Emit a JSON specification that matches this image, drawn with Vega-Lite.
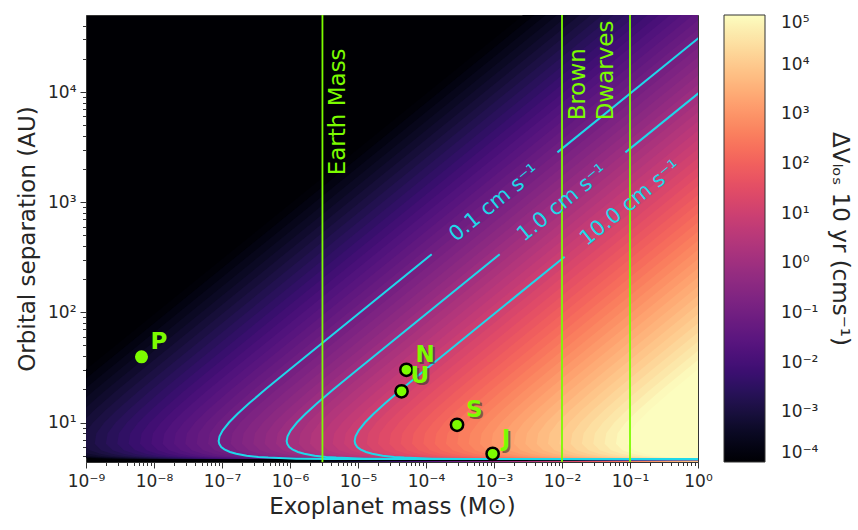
{
"$schema":"https://vega.github.io/schema/vega-lite/v6.json",
"width":612,"height":447,
"autosize":{"type":"none"},
"padding":{"left":86,"top":15,"right":160,"bottom":68},
"background":"white",
"config":{
"font":"DejaVu Sans",
"view":{"stroke":"#333333","strokeWidth":1,"fill":"#000004"},
"axis":{"labelFont":"DejaVu Sans","titleFont":"DejaVu Sans","labelColor":"#262626","titleColor":"#262626","tickColor":"#333333","domain":false,"grid":false,"titleFontWeight":"normal","labelFlush":false,"labelOverlap":false,"labelBound":false}
},
"datasets":{
"heat":[
{"c":1.21e-4,"r":4.3,"m":1.87e-10},{"c":1.21e-4,"r":4.6416,"m":1e4},{"c":1.21e-4,"r":4.7,"m":1.25e-9},{"c":1.21e-4,"r":4.87,"m":3.42e-10},{"c":1.21e-4,"r":30,"m":9.68e-10},{"c":1.21e-4,"r":60000,"m":3.85e-3},
{"c":1.78e-4,"r":4.3,"m":2.75e-10},{"c":1.78e-4,"r":4.6416,"m":1e4},{"c":1.78e-4,"r":4.7,"m":1.83e-9},{"c":1.78e-4,"r":4.87,"m":5.02e-10},{"c":1.78e-4,"r":19,"m":5.8e-10},{"c":1.78e-4,"r":30,"m":1.42e-9},{"c":1.78e-4,"r":60000,"m":5.65e-3},
{"c":2.61e-4,"r":4.3,"m":4.03e-10},{"c":2.61e-4,"r":4.6416,"m":1e4},{"c":2.61e-4,"r":4.7,"m":2.69e-9},{"c":2.61e-4,"r":4.87,"m":7.37e-10},{"c":2.61e-4,"r":19,"m":8.52e-10},{"c":2.61e-4,"r":30,"m":2.09e-9},{"c":2.61e-4,"r":60000,"m":8.29e-3},
{"c":3.83e-4,"r":4.3,"m":5.92e-10},{"c":3.83e-4,"r":4.6416,"m":1e4},{"c":3.83e-4,"r":4.7,"m":3.94e-9},{"c":3.83e-4,"r":4.87,"m":1.08e-9},{"c":3.83e-4,"r":5,"m":7.29e-10},{"c":3.83e-4,"r":13,"m":6.16e-10},{"c":3.83e-4,"r":19,"m":1.25e-9},{"c":3.83e-4,"r":30,"m":3.06e-9},{"c":3.83e-4,"r":60000,"m":1.22e-2},
{"c":5.62e-4,"r":4.3,"m":8.68e-10},{"c":5.62e-4,"r":4.6416,"m":1e4},{"c":5.62e-4,"r":4.7,"m":5.79e-9},{"c":5.62e-4,"r":4.87,"m":1.59e-9},{"c":5.62e-4,"r":5,"m":1.07e-9},{"c":5.62e-4,"r":5.2,"m":7.52e-10},{"c":5.62e-4,"r":13,"m":9.05e-10},{"c":5.62e-4,"r":19,"m":1.83e-9},{"c":5.62e-4,"r":30,"m":4.49e-9},{"c":5.62e-4,"r":60000,"m":1.79e-2},
{"c":8.25e-4,"r":4.3,"m":1.27e-9},{"c":8.25e-4,"r":4.6416,"m":1e4},{"c":8.25e-4,"r":4.7,"m":8.5e-9},{"c":8.25e-4,"r":4.87,"m":2.33e-9},{"c":8.25e-4,"r":5,"m":1.57e-9},{"c":8.25e-4,"r":5.2,"m":1.1e-9},{"c":8.25e-4,"r":5.6,"m":7.77e-10},{"c":8.25e-4,"r":10,"m":8.63e-10},{"c":8.25e-4,"r":13,"m":1.33e-9},{"c":8.25e-4,"r":19,"m":2.69e-9},{"c":8.25e-4,"r":30,"m":6.59e-9},{"c":8.25e-4,"r":60000,"m":2.62e-2},
{"c":1.21e-3,"r":4.3,"m":1.87e-9},{"c":1.21e-3,"r":4.6416,"m":1e4},{"c":1.21e-3,"r":4.7,"m":1.25e-8},{"c":1.21e-3,"r":4.87,"m":3.42e-9},{"c":1.21e-3,"r":5,"m":2.31e-9},{"c":1.21e-3,"r":5.2,"m":1.62e-9},{"c":1.21e-3,"r":5.6,"m":1.14e-9},{"c":1.21e-3,"r":6.4,"m":9.11e-10},{"c":1.21e-3,"r":8,"m":9.66e-10},{"c":1.21e-3,"r":10,"m":1.27e-9},{"c":1.21e-3,"r":13,"m":1.95e-9},{"c":1.21e-3,"r":19,"m":3.95e-9},{"c":1.21e-3,"r":30,"m":9.68e-9},{"c":1.21e-3,"r":60000,"m":3.85e-2},
{"c":1.78e-3,"r":4.3,"m":2.75e-9},{"c":1.78e-3,"r":4.6416,"m":1e4},{"c":1.78e-3,"r":4.7,"m":1.83e-8},{"c":1.78e-3,"r":4.87,"m":5.02e-9},{"c":1.78e-3,"r":5,"m":3.39e-9},{"c":1.78e-3,"r":5.2,"m":2.38e-9},{"c":1.78e-3,"r":5.6,"m":1.67e-9},{"c":1.78e-3,"r":6.4,"m":1.34e-9},{"c":1.78e-3,"r":8,"m":1.42e-9},{"c":1.78e-3,"r":10,"m":1.86e-9},{"c":1.78e-3,"r":13,"m":2.86e-9},{"c":1.78e-3,"r":19,"m":5.8e-9},{"c":1.78e-3,"r":30,"m":1.42e-8},{"c":1.78e-3,"r":60000,"m":5.65e-2},
{"c":2.61e-3,"r":4.3,"m":4.03e-9},{"c":2.61e-3,"r":4.6416,"m":1e4},{"c":2.61e-3,"r":4.7,"m":2.69e-8},{"c":2.61e-3,"r":4.87,"m":7.37e-9},{"c":2.61e-3,"r":5,"m":4.97e-9},{"c":2.61e-3,"r":5.2,"m":3.49e-9},{"c":2.61e-3,"r":5.6,"m":2.46e-9},{"c":2.61e-3,"r":6.4,"m":1.96e-9},{"c":2.61e-3,"r":8,"m":2.08e-9},{"c":2.61e-3,"r":10,"m":2.73e-9},{"c":2.61e-3,"r":13,"m":4.2e-9},{"c":2.61e-3,"r":19,"m":8.52e-9},{"c":2.61e-3,"r":30,"m":2.09e-8},{"c":2.61e-3,"r":60000,"m":8.29e-2},
{"c":3.83e-3,"r":4.3,"m":5.92e-9},{"c":3.83e-3,"r":4.6416,"m":1e4},{"c":3.83e-3,"r":4.7,"m":3.94e-8},{"c":3.83e-3,"r":4.87,"m":1.08e-8},{"c":3.83e-3,"r":5,"m":7.29e-9},{"c":3.83e-3,"r":5.2,"m":5.12e-9},{"c":3.83e-3,"r":5.6,"m":3.61e-9},{"c":3.83e-3,"r":6.4,"m":2.88e-9},{"c":3.83e-3,"r":8,"m":3.05e-9},{"c":3.83e-3,"r":10,"m":4.01e-9},{"c":3.83e-3,"r":13,"m":6.16e-9},{"c":3.83e-3,"r":19,"m":1.25e-8},{"c":3.83e-3,"r":30,"m":3.06e-8},{"c":3.83e-3,"r":60000,"m":0.122},
{"c":5.62e-3,"r":4.3,"m":8.68e-9},{"c":5.62e-3,"r":4.6416,"m":1e4},{"c":5.62e-3,"r":4.7,"m":5.79e-8},{"c":5.62e-3,"r":4.87,"m":1.59e-8},{"c":5.62e-3,"r":5,"m":1.07e-8},{"c":5.62e-3,"r":5.2,"m":7.52e-9},{"c":5.62e-3,"r":5.6,"m":5.29e-9},{"c":5.62e-3,"r":6.4,"m":4.23e-9},{"c":5.62e-3,"r":8,"m":4.48e-9},{"c":5.62e-3,"r":10,"m":5.88e-9},{"c":5.62e-3,"r":13,"m":9.05e-9},{"c":5.62e-3,"r":19,"m":1.83e-8},{"c":5.62e-3,"r":30,"m":4.49e-8},{"c":5.62e-3,"r":60000,"m":0.179},
{"c":8.25e-3,"r":4.3,"m":1.27e-8},{"c":8.25e-3,"r":4.6416,"m":1e4},{"c":8.25e-3,"r":4.7,"m":8.5e-8},{"c":8.25e-3,"r":4.87,"m":2.33e-8},{"c":8.25e-3,"r":5,"m":1.57e-8},{"c":8.25e-3,"r":5.2,"m":1.1e-8},{"c":8.25e-3,"r":5.6,"m":7.77e-9},{"c":8.25e-3,"r":6.4,"m":6.21e-9},{"c":8.25e-3,"r":8,"m":6.58e-9},{"c":8.25e-3,"r":10,"m":8.63e-9},{"c":8.25e-3,"r":13,"m":1.33e-8},{"c":8.25e-3,"r":19,"m":2.69e-8},{"c":8.25e-3,"r":30,"m":6.59e-8},{"c":8.25e-3,"r":60000,"m":0.262},
{"c":0.0121,"r":4.3,"m":1.87e-8},{"c":0.0121,"r":4.6416,"m":1e4},{"c":0.0121,"r":4.7,"m":1.25e-7},{"c":0.0121,"r":4.87,"m":3.42e-8},{"c":0.0121,"r":5,"m":2.31e-8},{"c":0.0121,"r":5.2,"m":1.62e-8},{"c":0.0121,"r":5.6,"m":1.14e-8},{"c":0.0121,"r":6.4,"m":9.11e-9},{"c":0.0121,"r":8,"m":9.66e-9},{"c":0.0121,"r":10,"m":1.27e-8},{"c":0.0121,"r":13,"m":1.95e-8},{"c":0.0121,"r":19,"m":3.95e-8},{"c":0.0121,"r":30,"m":9.68e-8},{"c":0.0121,"r":60000,"m":0.385},
{"c":0.0178,"r":4.3,"m":2.75e-8},{"c":0.0178,"r":4.6416,"m":1e4},{"c":0.0178,"r":4.7,"m":1.83e-7},{"c":0.0178,"r":4.87,"m":5.02e-8},{"c":0.0178,"r":5,"m":3.39e-8},{"c":0.0178,"r":5.2,"m":2.38e-8},{"c":0.0178,"r":5.6,"m":1.67e-8},{"c":0.0178,"r":6.4,"m":1.34e-8},{"c":0.0178,"r":8,"m":1.42e-8},{"c":0.0178,"r":10,"m":1.86e-8},{"c":0.0178,"r":13,"m":2.86e-8},{"c":0.0178,"r":19,"m":5.8e-8},{"c":0.0178,"r":30,"m":1.42e-7},{"c":0.0178,"r":60000,"m":0.565},
{"c":0.0261,"r":4.3,"m":4.03e-8},{"c":0.0261,"r":4.6416,"m":1e4},{"c":0.0261,"r":4.7,"m":2.69e-7},{"c":0.0261,"r":4.87,"m":7.37e-8},{"c":0.0261,"r":5,"m":4.97e-8},{"c":0.0261,"r":5.2,"m":3.49e-8},{"c":0.0261,"r":5.6,"m":2.46e-8},{"c":0.0261,"r":6.4,"m":1.96e-8},{"c":0.0261,"r":8,"m":2.08e-8},{"c":0.0261,"r":10,"m":2.73e-8},{"c":0.0261,"r":13,"m":4.2e-8},{"c":0.0261,"r":19,"m":8.52e-8},{"c":0.0261,"r":30,"m":2.09e-7},{"c":0.0261,"r":60000,"m":0.829},
{"c":0.0383,"r":4.3,"m":5.92e-8},{"c":0.0383,"r":4.6416,"m":1e4},{"c":0.0383,"r":4.7,"m":3.94e-7},{"c":0.0383,"r":4.87,"m":1.08e-7},{"c":0.0383,"r":5,"m":7.29e-8},{"c":0.0383,"r":5.2,"m":5.12e-8},{"c":0.0383,"r":5.6,"m":3.61e-8},{"c":0.0383,"r":6.4,"m":2.88e-8},{"c":0.0383,"r":8,"m":3.05e-8},{"c":0.0383,"r":10,"m":4.01e-8},{"c":0.0383,"r":13,"m":6.16e-8},{"c":0.0383,"r":19,"m":1.25e-7},{"c":0.0383,"r":30,"m":3.06e-7},{"c":0.0383,"r":60000,"m":1.22},
{"c":0.0562,"r":4.3,"m":8.68e-8},{"c":0.0562,"r":4.6416,"m":1e4},{"c":0.0562,"r":4.7,"m":5.79e-7},{"c":0.0562,"r":4.87,"m":1.59e-7},{"c":0.0562,"r":5,"m":1.07e-7},{"c":0.0562,"r":5.2,"m":7.52e-8},{"c":0.0562,"r":5.6,"m":5.29e-8},{"c":0.0562,"r":6.4,"m":4.23e-8},{"c":0.0562,"r":8,"m":4.48e-8},{"c":0.0562,"r":10,"m":5.88e-8},{"c":0.0562,"r":13,"m":9.05e-8},{"c":0.0562,"r":19,"m":1.83e-7},{"c":0.0562,"r":30,"m":4.49e-7},{"c":0.0562,"r":60000,"m":1.79},
{"c":0.0825,"r":4.3,"m":1.27e-7},{"c":0.0825,"r":4.6416,"m":1e4},{"c":0.0825,"r":4.7,"m":8.5e-7},{"c":0.0825,"r":4.87,"m":2.33e-7},{"c":0.0825,"r":5,"m":1.57e-7},{"c":0.0825,"r":5.2,"m":1.1e-7},{"c":0.0825,"r":5.6,"m":7.77e-8},{"c":0.0825,"r":6.4,"m":6.21e-8},{"c":0.0825,"r":8,"m":6.58e-8},{"c":0.0825,"r":10,"m":8.63e-8},{"c":0.0825,"r":13,"m":1.33e-7},{"c":0.0825,"r":19,"m":2.69e-7},{"c":0.0825,"r":30,"m":6.59e-7},{"c":0.0825,"r":60000,"m":2.62},
{"c":0.121,"r":4.3,"m":1.87e-7},{"c":0.121,"r":4.6416,"m":1e4},{"c":0.121,"r":4.7,"m":1.25e-6},{"c":0.121,"r":4.87,"m":3.42e-7},{"c":0.121,"r":5,"m":2.31e-7},{"c":0.121,"r":5.2,"m":1.62e-7},{"c":0.121,"r":5.6,"m":1.14e-7},{"c":0.121,"r":6.4,"m":9.11e-8},{"c":0.121,"r":8,"m":9.66e-8},{"c":0.121,"r":10,"m":1.27e-7},{"c":0.121,"r":13,"m":1.95e-7},{"c":0.121,"r":19,"m":3.95e-7},{"c":0.121,"r":30,"m":9.68e-7},{"c":0.121,"r":60000,"m":3.85},
{"c":0.178,"r":4.3,"m":2.75e-7},{"c":0.178,"r":4.6416,"m":1e4},{"c":0.178,"r":4.7,"m":1.83e-6},{"c":0.178,"r":4.87,"m":5.02e-7},{"c":0.178,"r":5,"m":3.39e-7},{"c":0.178,"r":5.2,"m":2.38e-7},{"c":0.178,"r":5.6,"m":1.67e-7},{"c":0.178,"r":6.4,"m":1.34e-7},{"c":0.178,"r":8,"m":1.42e-7},{"c":0.178,"r":10,"m":1.86e-7},{"c":0.178,"r":13,"m":2.86e-7},{"c":0.178,"r":19,"m":5.8e-7},{"c":0.178,"r":30,"m":1.42e-6},{"c":0.178,"r":60000,"m":5.65},
{"c":0.261,"r":4.3,"m":4.03e-7},{"c":0.261,"r":4.6416,"m":1e4},{"c":0.261,"r":4.7,"m":2.69e-6},{"c":0.261,"r":4.87,"m":7.37e-7},{"c":0.261,"r":5,"m":4.97e-7},{"c":0.261,"r":5.2,"m":3.49e-7},{"c":0.261,"r":5.6,"m":2.46e-7},{"c":0.261,"r":6.4,"m":1.96e-7},{"c":0.261,"r":8,"m":2.08e-7},{"c":0.261,"r":10,"m":2.73e-7},{"c":0.261,"r":13,"m":4.2e-7},{"c":0.261,"r":19,"m":8.52e-7},{"c":0.261,"r":30,"m":2.09e-6},{"c":0.261,"r":60000,"m":8.29},
{"c":0.383,"r":4.3,"m":5.92e-7},{"c":0.383,"r":4.6416,"m":1e4},{"c":0.383,"r":4.7,"m":3.94e-6},{"c":0.383,"r":4.87,"m":1.08e-6},{"c":0.383,"r":5,"m":7.29e-7},{"c":0.383,"r":5.2,"m":5.12e-7},{"c":0.383,"r":5.6,"m":3.61e-7},{"c":0.383,"r":6.4,"m":2.88e-7},{"c":0.383,"r":8,"m":3.05e-7},{"c":0.383,"r":10,"m":4.01e-7},{"c":0.383,"r":13,"m":6.16e-7},{"c":0.383,"r":19,"m":1.25e-6},{"c":0.383,"r":30,"m":3.06e-6},{"c":0.383,"r":60000,"m":12.2},
{"c":0.562,"r":4.3,"m":8.68e-7},{"c":0.562,"r":4.6416,"m":1e4},{"c":0.562,"r":4.7,"m":5.79e-6},{"c":0.562,"r":4.87,"m":1.59e-6},{"c":0.562,"r":5,"m":1.07e-6},{"c":0.562,"r":5.2,"m":7.52e-7},{"c":0.562,"r":5.6,"m":5.29e-7},{"c":0.562,"r":6.4,"m":4.23e-7},{"c":0.562,"r":8,"m":4.48e-7},{"c":0.562,"r":10,"m":5.88e-7},{"c":0.562,"r":13,"m":9.05e-7},{"c":0.562,"r":19,"m":1.83e-6},{"c":0.562,"r":30,"m":4.49e-6},{"c":0.562,"r":60000,"m":17.9},
{"c":0.825,"r":4.3,"m":1.27e-6},{"c":0.825,"r":4.6416,"m":1e4},{"c":0.825,"r":4.7,"m":8.5e-6},{"c":0.825,"r":4.87,"m":2.33e-6},{"c":0.825,"r":5,"m":1.57e-6},{"c":0.825,"r":5.2,"m":1.1e-6},{"c":0.825,"r":5.6,"m":7.77e-7},{"c":0.825,"r":6.4,"m":6.21e-7},{"c":0.825,"r":8,"m":6.58e-7},{"c":0.825,"r":10,"m":8.63e-7},{"c":0.825,"r":13,"m":1.33e-6},{"c":0.825,"r":19,"m":2.69e-6},{"c":0.825,"r":30,"m":6.59e-6},{"c":0.825,"r":60000,"m":26.2},
{"c":1.21,"r":4.3,"m":1.87e-6},{"c":1.21,"r":4.6416,"m":1e4},{"c":1.21,"r":4.7,"m":1.25e-5},{"c":1.21,"r":4.87,"m":3.42e-6},{"c":1.21,"r":5,"m":2.31e-6},{"c":1.21,"r":5.2,"m":1.62e-6},{"c":1.21,"r":5.6,"m":1.14e-6},{"c":1.21,"r":6.4,"m":9.11e-7},{"c":1.21,"r":8,"m":9.66e-7},{"c":1.21,"r":10,"m":1.27e-6},{"c":1.21,"r":13,"m":1.95e-6},{"c":1.21,"r":19,"m":3.95e-6},{"c":1.21,"r":30,"m":9.68e-6},{"c":1.21,"r":60000,"m":38.5},
{"c":1.78,"r":4.3,"m":2.75e-6},{"c":1.78,"r":4.6416,"m":1e4},{"c":1.78,"r":4.7,"m":1.83e-5},{"c":1.78,"r":4.87,"m":5.02e-6},{"c":1.78,"r":5,"m":3.39e-6},{"c":1.78,"r":5.2,"m":2.38e-6},{"c":1.78,"r":5.6,"m":1.67e-6},{"c":1.78,"r":6.4,"m":1.34e-6},{"c":1.78,"r":8,"m":1.42e-6},{"c":1.78,"r":10,"m":1.86e-6},{"c":1.78,"r":13,"m":2.86e-6},{"c":1.78,"r":19,"m":5.8e-6},{"c":1.78,"r":30,"m":1.42e-5},{"c":1.78,"r":60000,"m":56.5},
{"c":2.61,"r":4.3,"m":4.03e-6},{"c":2.61,"r":4.6416,"m":1e4},{"c":2.61,"r":4.7,"m":2.69e-5},{"c":2.61,"r":4.87,"m":7.37e-6},{"c":2.61,"r":5,"m":4.97e-6},{"c":2.61,"r":5.2,"m":3.49e-6},{"c":2.61,"r":5.6,"m":2.46e-6},{"c":2.61,"r":6.4,"m":1.96e-6},{"c":2.61,"r":8,"m":2.08e-6},{"c":2.61,"r":10,"m":2.73e-6},{"c":2.61,"r":13,"m":4.2e-6},{"c":2.61,"r":19,"m":8.52e-6},{"c":2.61,"r":30,"m":2.09e-5},{"c":2.61,"r":60000,"m":82.9},
{"c":3.83,"r":4.3,"m":5.92e-6},{"c":3.83,"r":4.6416,"m":1e4},{"c":3.83,"r":4.7,"m":3.94e-5},{"c":3.83,"r":4.87,"m":1.08e-5},{"c":3.83,"r":5,"m":7.29e-6},{"c":3.83,"r":5.2,"m":5.12e-6},{"c":3.83,"r":5.6,"m":3.61e-6},{"c":3.83,"r":6.4,"m":2.88e-6},{"c":3.83,"r":8,"m":3.05e-6},{"c":3.83,"r":10,"m":4.01e-6},{"c":3.83,"r":13,"m":6.16e-6},{"c":3.83,"r":19,"m":1.25e-5},{"c":3.83,"r":30,"m":3.06e-5},{"c":3.83,"r":60000,"m":122},
{"c":5.62,"r":4.3,"m":8.68e-6},{"c":5.62,"r":4.6416,"m":1e4},{"c":5.62,"r":4.7,"m":5.79e-5},{"c":5.62,"r":4.87,"m":1.59e-5},{"c":5.62,"r":5,"m":1.07e-5},{"c":5.62,"r":5.2,"m":7.52e-6},{"c":5.62,"r":5.6,"m":5.29e-6},{"c":5.62,"r":6.4,"m":4.23e-6},{"c":5.62,"r":8,"m":4.48e-6},{"c":5.62,"r":10,"m":5.88e-6},{"c":5.62,"r":13,"m":9.05e-6},{"c":5.62,"r":19,"m":1.83e-5},{"c":5.62,"r":30,"m":4.49e-5},{"c":5.62,"r":60000,"m":179},
{"c":8.25,"r":4.3,"m":1.27e-5},{"c":8.25,"r":4.6416,"m":1e4},{"c":8.25,"r":4.7,"m":8.5e-5},{"c":8.25,"r":4.87,"m":2.33e-5},{"c":8.25,"r":5,"m":1.57e-5},{"c":8.25,"r":5.2,"m":1.1e-5},{"c":8.25,"r":5.6,"m":7.77e-6},{"c":8.25,"r":6.4,"m":6.21e-6},{"c":8.25,"r":8,"m":6.58e-6},{"c":8.25,"r":10,"m":8.63e-6},{"c":8.25,"r":13,"m":1.33e-5},{"c":8.25,"r":19,"m":2.69e-5},{"c":8.25,"r":30,"m":6.59e-5},{"c":8.25,"r":60000,"m":262},
{"c":12.1,"r":4.3,"m":1.87e-5},{"c":12.1,"r":4.6416,"m":1e4},{"c":12.1,"r":4.7,"m":1.25e-4},{"c":12.1,"r":4.87,"m":3.42e-5},{"c":12.1,"r":5,"m":2.31e-5},{"c":12.1,"r":5.2,"m":1.62e-5},{"c":12.1,"r":5.6,"m":1.14e-5},{"c":12.1,"r":6.4,"m":9.11e-6},{"c":12.1,"r":8,"m":9.66e-6},{"c":12.1,"r":10,"m":1.27e-5},{"c":12.1,"r":13,"m":1.95e-5},{"c":12.1,"r":19,"m":3.95e-5},{"c":12.1,"r":30,"m":9.68e-5},{"c":12.1,"r":60000,"m":385},
{"c":17.8,"r":4.3,"m":2.75e-5},{"c":17.8,"r":4.6416,"m":1e4},{"c":17.8,"r":4.7,"m":1.83e-4},{"c":17.8,"r":4.87,"m":5.02e-5},{"c":17.8,"r":5,"m":3.39e-5},{"c":17.8,"r":5.2,"m":2.38e-5},{"c":17.8,"r":5.6,"m":1.67e-5},{"c":17.8,"r":6.4,"m":1.34e-5},{"c":17.8,"r":8,"m":1.42e-5},{"c":17.8,"r":10,"m":1.86e-5},{"c":17.8,"r":13,"m":2.86e-5},{"c":17.8,"r":19,"m":5.8e-5},{"c":17.8,"r":30,"m":1.42e-4},{"c":17.8,"r":60000,"m":565},
{"c":26.1,"r":4.3,"m":4.03e-5},{"c":26.1,"r":4.6416,"m":1e4},{"c":26.1,"r":4.7,"m":2.69e-4},{"c":26.1,"r":4.87,"m":7.37e-5},{"c":26.1,"r":5,"m":4.97e-5},{"c":26.1,"r":5.2,"m":3.49e-5},{"c":26.1,"r":5.6,"m":2.46e-5},{"c":26.1,"r":6.4,"m":1.96e-5},{"c":26.1,"r":8,"m":2.08e-5},{"c":26.1,"r":10,"m":2.73e-5},{"c":26.1,"r":13,"m":4.2e-5},{"c":26.1,"r":19,"m":8.52e-5},{"c":26.1,"r":30,"m":2.09e-4},{"c":26.1,"r":60000,"m":829},
{"c":38.3,"r":4.3,"m":5.92e-5},{"c":38.3,"r":4.6416,"m":1e4},{"c":38.3,"r":4.7,"m":3.94e-4},{"c":38.3,"r":4.87,"m":1.08e-4},{"c":38.3,"r":5,"m":7.29e-5},{"c":38.3,"r":5.2,"m":5.12e-5},{"c":38.3,"r":5.6,"m":3.61e-5},{"c":38.3,"r":6.4,"m":2.88e-5},{"c":38.3,"r":8,"m":3.05e-5},{"c":38.3,"r":10,"m":4.01e-5},{"c":38.3,"r":13,"m":6.16e-5},{"c":38.3,"r":19,"m":1.25e-4},{"c":38.3,"r":30,"m":3.06e-4},{"c":38.3,"r":60000,"m":1220},
{"c":56.2,"r":4.3,"m":8.68e-5},{"c":56.2,"r":4.6416,"m":1e4},{"c":56.2,"r":4.7,"m":5.79e-4},{"c":56.2,"r":4.87,"m":1.59e-4},{"c":56.2,"r":5,"m":1.07e-4},{"c":56.2,"r":5.2,"m":7.52e-5},{"c":56.2,"r":5.6,"m":5.29e-5},{"c":56.2,"r":6.4,"m":4.23e-5},{"c":56.2,"r":8,"m":4.48e-5},{"c":56.2,"r":10,"m":5.88e-5},{"c":56.2,"r":13,"m":9.05e-5},{"c":56.2,"r":19,"m":1.83e-4},{"c":56.2,"r":30,"m":4.49e-4},{"c":56.2,"r":60000,"m":1790},
{"c":82.5,"r":4.3,"m":1.27e-4},{"c":82.5,"r":4.6416,"m":1e4},{"c":82.5,"r":4.7,"m":8.5e-4},{"c":82.5,"r":4.87,"m":2.33e-4},{"c":82.5,"r":5,"m":1.57e-4},{"c":82.5,"r":5.2,"m":1.1e-4},{"c":82.5,"r":5.6,"m":7.77e-5},{"c":82.5,"r":6.4,"m":6.21e-5},{"c":82.5,"r":8,"m":6.58e-5},{"c":82.5,"r":10,"m":8.63e-5},{"c":82.5,"r":13,"m":1.33e-4},{"c":82.5,"r":19,"m":2.69e-4},{"c":82.5,"r":30,"m":6.59e-4},{"c":82.5,"r":60000,"m":2620},
{"c":121.1,"r":4.3,"m":1.87e-4},{"c":121.1,"r":4.6416,"m":1e4},{"c":121.1,"r":4.7,"m":1.25e-3},{"c":121.1,"r":4.87,"m":3.42e-4},{"c":121.1,"r":5,"m":2.31e-4},{"c":121.1,"r":5.2,"m":1.62e-4},{"c":121.1,"r":5.6,"m":1.14e-4},{"c":121.1,"r":6.4,"m":9.11e-5},{"c":121.1,"r":8,"m":9.66e-5},{"c":121.1,"r":10,"m":1.27e-4},{"c":121.1,"r":13,"m":1.95e-4},{"c":121.1,"r":19,"m":3.95e-4},{"c":121.1,"r":30,"m":9.68e-4},{"c":121.1,"r":60000,"m":3850},
{"c":177.8,"r":4.3,"m":2.75e-4},{"c":177.8,"r":4.6416,"m":1e4},{"c":177.8,"r":4.7,"m":1.83e-3},{"c":177.8,"r":4.87,"m":5.02e-4},{"c":177.8,"r":5,"m":3.39e-4},{"c":177.8,"r":5.2,"m":2.38e-4},{"c":177.8,"r":5.6,"m":1.67e-4},{"c":177.8,"r":6.4,"m":1.34e-4},{"c":177.8,"r":8,"m":1.42e-4},{"c":177.8,"r":10,"m":1.86e-4},{"c":177.8,"r":13,"m":2.86e-4},{"c":177.8,"r":19,"m":5.8e-4},{"c":177.8,"r":30,"m":1.42e-3},{"c":177.8,"r":60000,"m":5650},
{"c":261.1,"r":4.3,"m":4.03e-4},{"c":261.1,"r":4.6416,"m":1e4},{"c":261.1,"r":4.7,"m":2.69e-3},{"c":261.1,"r":4.87,"m":7.37e-4},{"c":261.1,"r":5,"m":4.97e-4},{"c":261.1,"r":5.2,"m":3.49e-4},{"c":261.1,"r":5.6,"m":2.46e-4},{"c":261.1,"r":6.4,"m":1.96e-4},{"c":261.1,"r":8,"m":2.08e-4},{"c":261.1,"r":10,"m":2.73e-4},{"c":261.1,"r":13,"m":4.2e-4},{"c":261.1,"r":19,"m":8.52e-4},{"c":261.1,"r":30,"m":2.09e-3},{"c":261.1,"r":60000,"m":8290},
{"c":383.1,"r":4.3,"m":5.92e-4},{"c":383.1,"r":4.6416,"m":1e4},{"c":383.1,"r":4.7,"m":3.94e-3},{"c":383.1,"r":4.87,"m":1.08e-3},{"c":383.1,"r":5,"m":7.29e-4},{"c":383.1,"r":5.2,"m":5.12e-4},{"c":383.1,"r":5.6,"m":3.61e-4},{"c":383.1,"r":6.4,"m":2.88e-4},{"c":383.1,"r":8,"m":3.05e-4},{"c":383.1,"r":10,"m":4.01e-4},{"c":383.1,"r":13,"m":6.16e-4},{"c":383.1,"r":19,"m":1.25e-3},{"c":383.1,"r":30,"m":3.06e-3},{"c":383.1,"r":60000,"m":12200},
{"c":562.3,"r":4.3,"m":8.68e-4},{"c":562.3,"r":4.6416,"m":1e4},{"c":562.3,"r":4.7,"m":5.79e-3},{"c":562.3,"r":4.87,"m":1.59e-3},{"c":562.3,"r":5,"m":1.07e-3},{"c":562.3,"r":5.2,"m":7.52e-4},{"c":562.3,"r":5.6,"m":5.29e-4},{"c":562.3,"r":6.4,"m":4.23e-4},{"c":562.3,"r":8,"m":4.48e-4},{"c":562.3,"r":10,"m":5.88e-4},{"c":562.3,"r":13,"m":9.05e-4},{"c":562.3,"r":19,"m":1.83e-3},{"c":562.3,"r":30,"m":4.49e-3},{"c":562.3,"r":60000,"m":17900},
{"c":825.4,"r":4.3,"m":1.27e-3},{"c":825.4,"r":4.6416,"m":1e4},{"c":825.4,"r":4.7,"m":8.5e-3},{"c":825.4,"r":4.87,"m":2.33e-3},{"c":825.4,"r":5,"m":1.57e-3},{"c":825.4,"r":5.2,"m":1.1e-3},{"c":825.4,"r":5.6,"m":7.77e-4},{"c":825.4,"r":6.4,"m":6.21e-4},{"c":825.4,"r":8,"m":6.58e-4},{"c":825.4,"r":10,"m":8.63e-4},{"c":825.4,"r":13,"m":1.33e-3},{"c":825.4,"r":19,"m":2.69e-3},{"c":825.4,"r":30,"m":6.59e-3},{"c":825.4,"r":60000,"m":26200},
{"c":1211.5,"r":4.3,"m":1.87e-3},{"c":1211.5,"r":4.6416,"m":1e4},{"c":1211.5,"r":4.7,"m":1.25e-2},{"c":1211.5,"r":4.87,"m":3.42e-3},{"c":1211.5,"r":5,"m":2.31e-3},{"c":1211.5,"r":5.2,"m":1.62e-3},{"c":1211.5,"r":5.6,"m":1.14e-3},{"c":1211.5,"r":6.4,"m":9.11e-4},{"c":1211.5,"r":8,"m":9.66e-4},{"c":1211.5,"r":10,"m":1.27e-3},{"c":1211.5,"r":13,"m":1.95e-3},{"c":1211.5,"r":19,"m":3.95e-3},{"c":1211.5,"r":30,"m":9.68e-3},{"c":1211.5,"r":60000,"m":38500},
{"c":1778.3,"r":4.3,"m":2.75e-3},{"c":1778.3,"r":4.6416,"m":1e4},{"c":1778.3,"r":4.7,"m":1.83e-2},{"c":1778.3,"r":4.87,"m":5.02e-3},{"c":1778.3,"r":5,"m":3.39e-3},{"c":1778.3,"r":5.2,"m":2.38e-3},{"c":1778.3,"r":5.6,"m":1.67e-3},{"c":1778.3,"r":6.4,"m":1.34e-3},{"c":1778.3,"r":8,"m":1.42e-3},{"c":1778.3,"r":10,"m":1.86e-3},{"c":1778.3,"r":13,"m":2.86e-3},{"c":1778.3,"r":19,"m":5.8e-3},{"c":1778.3,"r":30,"m":1.42e-2},{"c":1778.3,"r":60000,"m":56500},
{"c":2610.2,"r":4.3,"m":4.03e-3},{"c":2610.2,"r":4.6416,"m":1e4},{"c":2610.2,"r":4.7,"m":2.69e-2},{"c":2610.2,"r":4.87,"m":7.37e-3},{"c":2610.2,"r":5,"m":4.97e-3},{"c":2610.2,"r":5.2,"m":3.49e-3},{"c":2610.2,"r":5.6,"m":2.46e-3},{"c":2610.2,"r":6.4,"m":1.96e-3},{"c":2610.2,"r":8,"m":2.08e-3},{"c":2610.2,"r":10,"m":2.73e-3},{"c":2610.2,"r":13,"m":4.2e-3},{"c":2610.2,"r":19,"m":8.52e-3},{"c":2610.2,"r":30,"m":2.09e-2},{"c":2610.2,"r":60000,"m":82900},
{"c":3831.2,"r":4.3,"m":5.92e-3},{"c":3831.2,"r":4.6416,"m":1e4},{"c":3831.2,"r":4.7,"m":3.94e-2},{"c":3831.2,"r":4.87,"m":1.08e-2},{"c":3831.2,"r":5,"m":7.29e-3},{"c":3831.2,"r":5.2,"m":5.12e-3},{"c":3831.2,"r":5.6,"m":3.61e-3},{"c":3831.2,"r":6.4,"m":2.88e-3},{"c":3831.2,"r":8,"m":3.05e-3},{"c":3831.2,"r":10,"m":4.01e-3},{"c":3831.2,"r":13,"m":6.16e-3},{"c":3831.2,"r":19,"m":1.25e-2},{"c":3831.2,"r":30,"m":3.06e-2},{"c":3831.2,"r":60000,"m":122000},
{"c":5623.4,"r":4.3,"m":8.68e-3},{"c":5623.4,"r":4.6416,"m":1e4},{"c":5623.4,"r":4.7,"m":5.79e-2},{"c":5623.4,"r":4.87,"m":1.59e-2},{"c":5623.4,"r":5,"m":1.07e-2},{"c":5623.4,"r":5.2,"m":7.52e-3},{"c":5623.4,"r":5.6,"m":5.29e-3},{"c":5623.4,"r":6.4,"m":4.23e-3},{"c":5623.4,"r":8,"m":4.48e-3},{"c":5623.4,"r":10,"m":5.88e-3},{"c":5623.4,"r":13,"m":9.05e-3},{"c":5623.4,"r":19,"m":1.83e-2},{"c":5623.4,"r":30,"m":4.49e-2},{"c":5623.4,"r":60000,"m":179000},
{"c":8254.1,"r":4.3,"m":1.27e-2},{"c":8254.1,"r":4.6416,"m":1e4},{"c":8254.1,"r":4.7,"m":8.5e-2},{"c":8254.1,"r":4.87,"m":2.33e-2},{"c":8254.1,"r":5,"m":1.57e-2},{"c":8254.1,"r":5.2,"m":1.1e-2},{"c":8254.1,"r":5.6,"m":7.77e-3},{"c":8254.1,"r":6.4,"m":6.21e-3},{"c":8254.1,"r":8,"m":6.58e-3},{"c":8254.1,"r":10,"m":8.63e-3},{"c":8254.1,"r":13,"m":1.33e-2},{"c":8254.1,"r":19,"m":2.69e-2},{"c":8254.1,"r":30,"m":6.59e-2},{"c":8254.1,"r":60000,"m":262000},
{"c":12115.3,"r":4.3,"m":1.87e-2},{"c":12115.3,"r":4.6416,"m":1e4},{"c":12115.3,"r":4.7,"m":0.125},{"c":12115.3,"r":4.87,"m":3.42e-2},{"c":12115.3,"r":5,"m":2.31e-2},{"c":12115.3,"r":5.2,"m":1.62e-2},{"c":12115.3,"r":5.6,"m":1.14e-2},{"c":12115.3,"r":6.4,"m":9.11e-3},{"c":12115.3,"r":8,"m":9.66e-3},{"c":12115.3,"r":10,"m":1.27e-2},{"c":12115.3,"r":13,"m":1.95e-2},{"c":12115.3,"r":19,"m":3.95e-2},{"c":12115.3,"r":30,"m":9.68e-2},{"c":12115.3,"r":60000,"m":385000},
{"c":17782.8,"r":4.3,"m":2.75e-2},{"c":17782.8,"r":4.6416,"m":1e4},{"c":17782.8,"r":4.7,"m":0.183},{"c":17782.8,"r":4.87,"m":5.02e-2},{"c":17782.8,"r":5,"m":3.39e-2},{"c":17782.8,"r":5.2,"m":2.38e-2},{"c":17782.8,"r":5.6,"m":1.67e-2},{"c":17782.8,"r":6.4,"m":1.34e-2},{"c":17782.8,"r":8,"m":1.42e-2},{"c":17782.8,"r":10,"m":1.86e-2},{"c":17782.8,"r":13,"m":2.86e-2},{"c":17782.8,"r":19,"m":5.8e-2},{"c":17782.8,"r":30,"m":0.142},{"c":17782.8,"r":60000,"m":565000},
{"c":26101.6,"r":4.3,"m":4.03e-2},{"c":26101.6,"r":4.6416,"m":1e4},{"c":26101.6,"r":4.7,"m":0.269},{"c":26101.6,"r":4.87,"m":7.37e-2},{"c":26101.6,"r":5,"m":4.97e-2},{"c":26101.6,"r":5.2,"m":3.49e-2},{"c":26101.6,"r":5.6,"m":2.46e-2},{"c":26101.6,"r":6.4,"m":1.96e-2},{"c":26101.6,"r":8,"m":2.08e-2},{"c":26101.6,"r":10,"m":2.73e-2},{"c":26101.6,"r":13,"m":4.2e-2},{"c":26101.6,"r":19,"m":8.52e-2},{"c":26101.6,"r":30,"m":0.209},{"c":26101.6,"r":60000,"m":829000},
{"c":38312.2,"r":4.3,"m":5.92e-2},{"c":38312.2,"r":4.6416,"m":1e4},{"c":38312.2,"r":4.7,"m":0.394},{"c":38312.2,"r":4.87,"m":0.108},{"c":38312.2,"r":5,"m":7.29e-2},{"c":38312.2,"r":5.2,"m":5.12e-2},{"c":38312.2,"r":5.6,"m":3.61e-2},{"c":38312.2,"r":6.4,"m":2.88e-2},{"c":38312.2,"r":8,"m":3.05e-2},{"c":38312.2,"r":10,"m":4.01e-2},{"c":38312.2,"r":13,"m":6.16e-2},{"c":38312.2,"r":19,"m":0.125},{"c":38312.2,"r":30,"m":0.306},{"c":38312.2,"r":60000,"m":1220000},
{"c":56234.1,"r":4.3,"m":8.68e-2},{"c":56234.1,"r":4.6416,"m":1e4},{"c":56234.1,"r":4.7,"m":0.579},{"c":56234.1,"r":4.87,"m":0.159},{"c":56234.1,"r":5,"m":0.107},{"c":56234.1,"r":5.2,"m":7.52e-2},{"c":56234.1,"r":5.6,"m":5.29e-2},{"c":56234.1,"r":6.4,"m":4.23e-2},{"c":56234.1,"r":8,"m":4.48e-2},{"c":56234.1,"r":10,"m":5.88e-2},{"c":56234.1,"r":13,"m":9.05e-2},{"c":56234.1,"r":19,"m":0.183},{"c":56234.1,"r":30,"m":0.449},{"c":56234.1,"r":60000,"m":1790000},
{"c":82540.4,"r":4.3,"m":0.127},{"c":82540.4,"r":4.6416,"m":1e4},{"c":82540.4,"r":4.7,"m":0.85},{"c":82540.4,"r":4.87,"m":0.233},{"c":82540.4,"r":5,"m":0.157},{"c":82540.4,"r":5.2,"m":0.11},{"c":82540.4,"r":5.6,"m":7.77e-2},{"c":82540.4,"r":6.4,"m":6.21e-2},{"c":82540.4,"r":8,"m":6.58e-2},{"c":82540.4,"r":10,"m":8.63e-2},{"c":82540.4,"r":13,"m":0.133},{"c":82540.4,"r":19,"m":0.269},{"c":82540.4,"r":30,"m":0.659},{"c":82540.4,"r":60000,"m":2620000},
{"c":121152.8,"r":4.3,"m":0.187},{"c":121152.8,"r":4.6416,"m":1e4},{"c":121152.8,"r":4.7,"m":1.25},{"c":121152.8,"r":4.87,"m":0.342},{"c":121152.8,"r":5,"m":0.231},{"c":121152.8,"r":5.2,"m":0.162},{"c":121152.8,"r":5.6,"m":0.114},{"c":121152.8,"r":6.4,"m":9.11e-2},{"c":121152.8,"r":8,"m":9.66e-2},{"c":121152.8,"r":10,"m":0.127},{"c":121152.8,"r":13,"m":0.195},{"c":121152.8,"r":19,"m":0.395},{"c":121152.8,"r":30,"m":0.968},{"c":121152.8,"r":60000,"m":3850000}
],
"contours":[
{"s":"0.1a","r":4.6416,"m":1e4},{"s":"0.1a","r":4.66,"m":3.9e-6},{"s":"0.1a","r":4.7,"m":1.247e-6},{"s":"0.1a","r":4.75,"m":6.86e-7},{"s":"0.1a","r":4.8,"m":4.79e-7},{"s":"0.1a","r":4.87,"m":3.42e-7},{"s":"0.1a","r":5,"m":2.306e-7},{"s":"0.1a","r":5.2,"m":1.62e-7},{"s":"0.1a","r":5.4,"m":1.31e-7},{"s":"0.1a","r":5.7,"m":1.083e-7},{"s":"0.1a","r":6,"m":9.75e-8},{"s":"0.1a","r":6.4,"m":9.11e-8},{"s":"0.1a","r":6.8,"m":8.93e-8},{"s":"0.1a","r":7.5,"m":9.2e-8},{"s":"0.1a","r":8.5,"m":1.026e-7},{"s":"0.1a","r":10,"m":1.267e-7},{"s":"0.1a","r":12,"m":1.696e-7},{"s":"0.1a","r":15,"m":2.527e-7},{"s":"0.1a","r":20,"m":4.365e-7},{"s":"0.1a","r":30,"m":9.68e-7},{"s":"0.1a","r":337,"m":1.214e-4},
{"s":"0.1b","r":2830,"m":8.56e-3},{"s":"0.1b","r":60000,"m":3.85},
{"s":"1a","r":4.6416,"m":1e4},{"s":"1a","r":4.66,"m":3.9e-5},{"s":"1a","r":4.7,"m":1.247e-5},{"s":"1a","r":4.75,"m":6.86e-6},{"s":"1a","r":4.8,"m":4.79e-6},{"s":"1a","r":4.87,"m":3.42e-6},{"s":"1a","r":5,"m":2.306e-6},{"s":"1a","r":5.2,"m":1.62e-6},{"s":"1a","r":5.4,"m":1.31e-6},{"s":"1a","r":5.7,"m":1.083e-6},{"s":"1a","r":6,"m":9.75e-7},{"s":"1a","r":6.4,"m":9.11e-7},{"s":"1a","r":6.8,"m":8.93e-7},{"s":"1a","r":7.5,"m":9.2e-7},{"s":"1a","r":8.5,"m":1.026e-6},{"s":"1a","r":10,"m":1.267e-6},{"s":"1a","r":12,"m":1.696e-6},{"s":"1a","r":15,"m":2.527e-6},{"s":"1a","r":20,"m":4.365e-6},{"s":"1a","r":30,"m":9.68e-6},{"s":"1a","r":337,"m":1.214e-3},
{"s":"1b","r":2830,"m":8.56e-2},{"s":"1b","r":60000,"m":38.5},
{"s":"10a","r":4.6416,"m":1e4},{"s":"10a","r":4.66,"m":3.9e-4},{"s":"10a","r":4.7,"m":1.247e-4},{"s":"10a","r":4.75,"m":6.86e-5},{"s":"10a","r":4.8,"m":4.79e-5},{"s":"10a","r":4.87,"m":3.42e-5},{"s":"10a","r":5,"m":2.306e-5},{"s":"10a","r":5.2,"m":1.62e-5},{"s":"10a","r":5.4,"m":1.31e-5},{"s":"10a","r":5.7,"m":1.083e-5},{"s":"10a","r":6,"m":9.75e-6},{"s":"10a","r":6.4,"m":9.11e-6},{"s":"10a","r":6.8,"m":8.93e-6},{"s":"10a","r":7.5,"m":9.2e-6},{"s":"10a","r":8.5,"m":1.026e-5},{"s":"10a","r":10,"m":1.267e-5},{"s":"10a","r":12,"m":1.696e-5},{"s":"10a","r":15,"m":2.527e-5},{"s":"10a","r":20,"m":4.365e-5},{"s":"10a","r":30,"m":9.68e-5},{"s":"10a","r":320,"m":1.094e-2}
],
"clabels":[
{"m":1.02e-3,"r":977,"t":"0.1 cm s⁻¹"},
{"m":1.02e-2,"r":977,"t":"1.0 cm s⁻¹"},
{"m":1.02e-1,"r":977,"t":"10.0 cm s⁻¹"}
],
"vlines":[{"m":3.0e-6},{"m":0.01},{"m":0.1}],
"notes":[
{"m":5.08e-6,"r":1754,"t":"Earth Mass"},
{"m":0.01718,"r":5527,"t":"Brown"},
{"m":0.0451,"r":5527,"t":"Dwarves"}
],
"planets":[
{"name":"P","m":6.55e-9,"r":39.5},
{"name":"N","m":5.15e-5,"r":30.1},
{"name":"U","m":4.37e-5,"r":19.2},
{"name":"S","m":2.86e-4,"r":9.54},
{"name":"J","m":9.55e-4,"r":5.2}
]
},
"resolve":{"axis":{"x":"independent","y":"independent"}},
"layer":[
{"data":{"name":"heat"},
"mark":{"type":"area","orient":"horizontal","clip":true},
"encoding":{
"y":{"field":"r","type":"quantitative","scale":{"type":"log","domain":[4.38,50000],"nice":false},
"axis":{"values":[10,100,1000,10000],"labelExpr":"'10' + (datum.value < 1 ? '⁻' : '') + ['⁰','¹','²','³','⁴','⁵','⁶','⁷','⁸','⁹'][round(abs(log(datum.value)/LN10))]","title":"Orbital separation (AU)","titleFontSize":23,"labelFontSize":17,"tickSize":6,"labelPadding":4,"titlePadding":8}},
"x":{"field":"m","type":"quantitative","stack":null,"scale":{"type":"log","domain":[1e-9,1],"nice":false},
"axis":{"values":[1e-9,1e-8,1e-7,1e-6,1e-5,1e-4,1e-3,1e-2,1e-1,1],"labelExpr":"'10' + (datum.value < 1 ? '⁻' : '') + ['⁰','¹','²','³','⁴','⁵','⁶','⁷','⁸','⁹'][round(abs(log(datum.value)/LN10))]","title":"Exoplanet mass (M⊙)","titleFontSize":23,"labelFontSize":17,"tickSize":6,"labelPadding":5,"titlePadding":6}},
"x2":{"datum":1},
"color":{"field":"c","type":"quantitative","scale":{"type":"log","domain":[0.0001,100000],"scheme":"magma","clamp":true},
"legend":{"orient":"none","legendX":638,"legendY":0,"direction":"vertical","gradientLength":447,"gradientThickness":41,"gradientStrokeColor":"#333333","gradientStrokeWidth":1,"values":[0.0001,0.001,0.01,0.1,1,10,100,1000,10000,100000],"labelExpr":"'10' + (datum.value < 1 ? '⁻' : '') + ['⁰','¹','²','³','⁴','⁵','⁶','⁷','⁸','⁹'][round(abs(log(datum.value)/LN10))]","labelFontSize":17,"labelColor":"#262626","labelOffset":16,"labelOverlap":false,"labelBaseline":"middle","title":"ΔVₗₒₛ 10 yr (cms⁻¹)","titleLimit":600,"titleOrient":"right","titleAngle":270,"titleFontSize":23,"titleFontWeight":"normal","titleColor":"#262626","titleAnchor":"middle","titlePadding":10,"padding":0}}
}},
{"data":{"name":"contours"},
"mark":{"type":"line","clip":true,"color":"#1ed8ea","strokeWidth":2},
"encoding":{
"x":{"field":"m","type":"quantitative","scale":{"type":"log","domain":[1e-9,1],"nice":false},
"axis":{"orient":"bottom","values":[2e-9,3e-9,4e-9,5e-9,6e-9,7e-9,8e-9,9e-9,2e-8,3e-8,4e-8,5e-8,6e-8,7e-8,8e-8,9e-8,2e-7,3e-7,4e-7,5e-7,6e-7,7e-7,8e-7,9e-7,2e-6,3e-6,4e-6,5e-6,6e-6,7e-6,8e-6,9e-6,2e-5,3e-5,4e-5,5e-5,6e-5,7e-5,8e-5,9e-5,2e-4,3e-4,4e-4,5e-4,6e-4,7e-4,8e-4,9e-4,2e-3,3e-3,4e-3,5e-3,6e-3,7e-3,8e-3,9e-3,0.02,0.03,0.04,0.05,0.06,0.07,0.08,0.09,0.2,0.3,0.4,0.5,0.6,0.7,0.8,0.9],"labels":false,"tickSize":3.5,"title":null}},
"y":{"field":"r","type":"quantitative","scale":{"type":"log","domain":[4.38,50000],"nice":false},
"axis":{"orient":"left","values":[5,6,7,8,9,20,30,40,50,60,70,80,90,200,300,400,500,600,700,800,900,2000,3000,4000,5000,6000,7000,8000,9000,20000,30000,40000],"labels":false,"tickSize":3.5,"title":null}},
"detail":{"field":"s","type":"nominal"},
"order":{"field":"r","type":"quantitative"}
}},
{"data":{"name":"vlines"},
"mark":{"type":"rule","color":"#7cfc00","strokeWidth":1.8},
"encoding":{"x":{"field":"m","type":"quantitative","scale":{"type":"log","domain":[1e-9,1],"nice":false},"axis":null}}},
{"data":{"name":"clabels"},
"mark":{"type":"text","color":"#1ed8ea","fontSize":21,"angle":321,"align":"center","baseline":"middle","font":"DejaVu Sans"},
"encoding":{
"x":{"field":"m","type":"quantitative","scale":{"type":"log","domain":[1e-9,1],"nice":false},"axis":null},
"y":{"field":"r","type":"quantitative","scale":{"type":"log","domain":[4.38,50000],"nice":false},"axis":null},
"text":{"field":"t"}}},
{"data":{"name":"notes"},
"mark":{"type":"text","color":"#7cfc00","fontSize":23,"angle":270,"align":"left","baseline":"middle","font":"DejaVu Sans"},
"encoding":{
"x":{"field":"m","type":"quantitative","scale":{"type":"log","domain":[1e-9,1],"nice":false},"axis":null},
"y":{"field":"r","type":"quantitative","scale":{"type":"log","domain":[4.38,50000],"nice":false},"axis":null},
"text":{"field":"t"}}},
{"data":{"name":"planets"},
"transform":[{"filter":"datum.name == 'P'"}],
"mark":{"type":"circle","size":170,"fill":"#7cfc00","opacity":1,"strokeWidth":0},
"encoding":{
"x":{"field":"m","type":"quantitative","scale":{"type":"log","domain":[1e-9,1],"nice":false},"axis":null},
"y":{"field":"r","type":"quantitative","scale":{"type":"log","domain":[4.38,50000],"nice":false},"axis":null}}},
{"data":{"name":"planets"},
"transform":[{"filter":"datum.name != 'P'"}],
"mark":{"type":"circle","size":150,"fill":"#7cfc00","stroke":"#000000","strokeWidth":2.5,"opacity":1},
"encoding":{
"x":{"field":"m","type":"quantitative","scale":{"type":"log","domain":[1e-9,1],"nice":false},"axis":null},
"y":{"field":"r","type":"quantitative","scale":{"type":"log","domain":[4.38,50000],"nice":false},"axis":null}}},
{"data":{"name":"planets"},
"transform":[{"filter":"datum.name != 'P'"}],
"mark":{"type":"text","color":"#3a3a2a","opacity":0.6,"fontSize":23,"fontWeight":"bold","align":"left","baseline":"middle","dx":11,"dy":-13,"font":"DejaVu Sans"},
"encoding":{
"x":{"field":"m","type":"quantitative","scale":{"type":"log","domain":[1e-9,1],"nice":false},"axis":null},
"y":{"field":"r","type":"quantitative","scale":{"type":"log","domain":[4.38,50000],"nice":false},"axis":null},
"text":{"field":"name"}}},
{"data":{"name":"planets"},
"mark":{"type":"text","color":"#7cfc00","fontSize":23,"fontWeight":"bold","align":"left","baseline":"middle","dx":9,"dy":-15,"font":"DejaVu Sans"},
"encoding":{
"x":{"field":"m","type":"quantitative","scale":{"type":"log","domain":[1e-9,1],"nice":false},"axis":null},
"y":{"field":"r","type":"quantitative","scale":{"type":"log","domain":[4.38,50000],"nice":false},"axis":null},
"text":{"field":"name"}}}
]
}
